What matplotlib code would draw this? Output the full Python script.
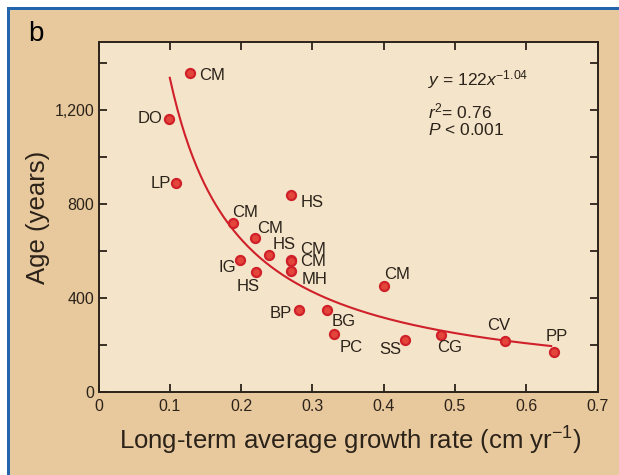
import matplotlib.pyplot as plt
import matplotlib.patches as patches
import numpy as np

# site labels, growth rate (cm/yr) and age (years)
sites = ['CM', 'DO', 'LP', 'HS', 'CM', 'CM', 'HS', 'CM', 'CM', 'MH', 'IG', 'HS',
         'BP', 'BG', 'PC', 'CM', 'SS', 'CG', 'CV', 'PP']
growth = [0.128, 0.0985, 0.109, 0.270, 0.188, 0.220, 0.239, 0.270, 0.270, 0.270,
          0.199, 0.221, 0.281, 0.320, 0.330, 0.400, 0.430, 0.480, 0.570, 0.639]
age = [1360, 1163, 889, 840, 721, 654, 585, 560, 556, 517,
       560, 510, 347, 348, 246, 453, 220, 243, 219, 171]
# label offsets in pixels (text centre relative to point)
label_dx = [22, -19, -15, 21, 13, 15, 15, 22, 22, 24, -13, -8, -18, 17, 17, 13, -15, 9, -6, 3]
label_dy = [-3, 0, 0, -8, 10, 10, 10, 11, 0, -9, -7, -14, -3, -11, -13, 11, -9, -13, 15, 15]

# power-law fit printed on the chart
fit_a = 122
fit_b = -1.04
fit_range = (0.1, 0.635)

tan = '#E8C99E'
cream = '#F3E4CA'
blue = '#2366AE'
red = '#D0202A'
ink = '#2B2219'

plt.rcParams['font.family'] = ['Liberation Sans', 'DejaVu Sans']
plt.rcParams['mathtext.fontset'] = 'custom'
plt.rcParams['mathtext.rm'] = 'Liberation Sans'
plt.rcParams['mathtext.it'] = 'Liberation Sans:italic'

fig = plt.figure(figsize=(6.19, 4.75), dpi=100)
fig.patch.set_facecolor('white')
W, H = 619, 475

# panel frame: blue border top/left, tan fill
fig.patches.append(patches.Rectangle((7 / W, 0), 1 - 7 / W, 1 - 7 / H, transform=fig.transFigure,
                                     facecolor=tan, edgecolor='none', zorder=-2))
fig.patches.append(patches.Rectangle((7 / W, 1 - 9.5 / H), 1 - 7 / W, 2.5 / H, transform=fig.transFigure,
                                     facecolor=blue, edgecolor='none', zorder=-1))
fig.patches.append(patches.Rectangle((7 / W, 0), 2.5 / W, 1 - 7 / H, transform=fig.transFigure,
                                     facecolor=blue, edgecolor='none', zorder=-1))

ax = fig.add_axes([98.5 / W, (H - 392) / H, 499 / W, 350 / H])
ax.set_facecolor(cream)

xs = np.linspace(fit_range[0], fit_range[1], 200)
ax.plot(xs, fit_a * xs ** fit_b, color=red, lw=1.5, zorder=2)

ax.plot(growth, age, 'o', ms=6.5, mfc='#E4453A', mec=red, mew=1.6, zorder=3)
for s, x, y, dx, dy in zip(sites, growth, age, label_dx, label_dy):
    ax.annotate(s, (x, y), xytext=(dx, dy), textcoords='offset pixels',
                ha='center', va='center', fontsize=12, color=ink)

ax.set_xlim(0, 0.7)
ax.set_ylim(0, 1490)
ax.set_xticks(np.arange(0, 0.71, 0.1))
ax.set_xticklabels(['0', '0.1', '0.2', '0.3', '0.4', '0.5', '0.6', '0.7'])
ax.set_yticks(np.arange(0, 1401, 200))
ax.set_yticklabels(['0', '', '400', '', '800', '', '1,200', ''])
ax.tick_params(direction='in', length=6, width=1.3, color=ink, labelcolor=ink,
               labelsize=11.5, top=True, right=True)
ax.tick_params(axis='x', pad=5)
ax.tick_params(axis='y', pad=3)
for sp in ax.spines.values():
    sp.set_color(ink)
    sp.set_linewidth(1.4)

ax.set_xlabel('Long-term average growth rate (cm yr$^{-1}$)', fontsize=18.5, color=ink)
ax.set_ylabel('Age (years)', fontsize=18.5, color=ink)
ax.xaxis.set_label_coords(0.505, -0.095)
ax.yaxis.set_label_coords(-0.098, 0.5)

fig.text(428 / W, 1 - 80 / H, r'$\it{y}$ = 122$\it{x}^{-1.04}$', fontsize=12.5,
         color=ink, va='center')
fig.text(428 / W, 1 - 111 / H, r'$\it{r}^{2}$= 0.76', fontsize=12.5, color=ink, va='center')
fig.text(428 / W, 1 - 130 / H, r'$\it{P}$ < 0.001', fontsize=12.5, color=ink, va='center')

fig.text(36 / W, 1 - 34 / H, 'b', fontsize=20, color='black', ha='center', va='center')

fig.savefig('out.png', dpi=100, facecolor=fig.get_facecolor())
